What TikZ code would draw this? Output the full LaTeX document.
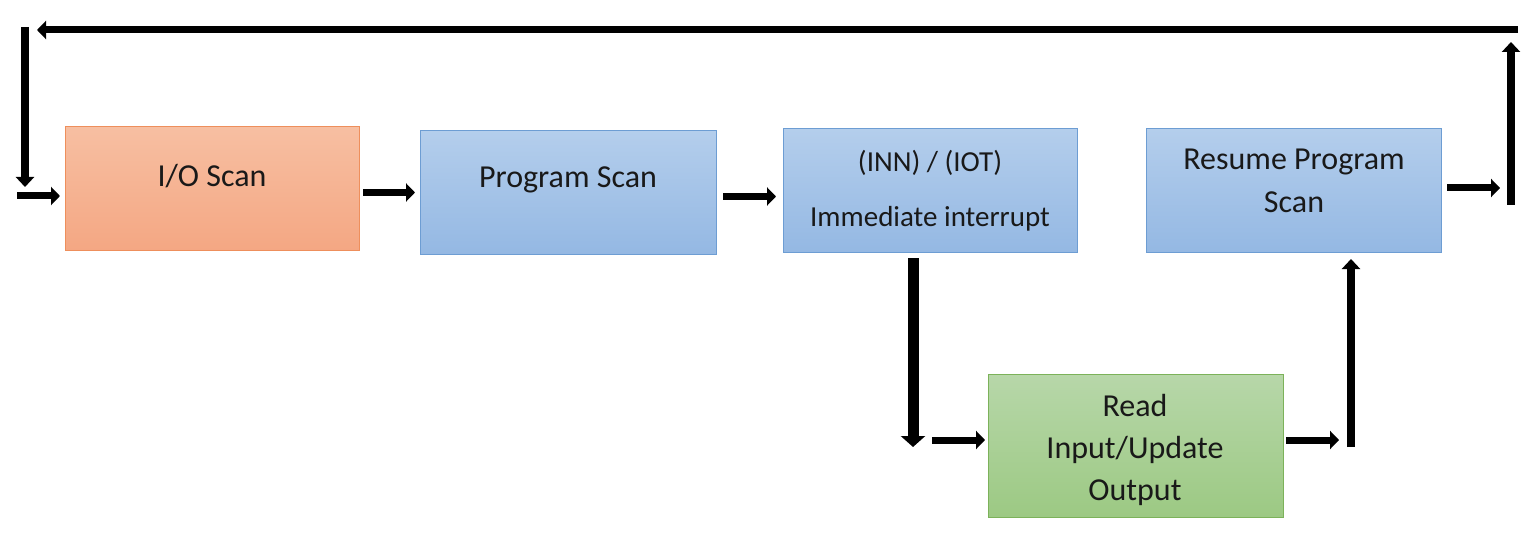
\documentclass[tikz,border=0pt]{standalone}
\usepackage{fontspec}
\setmainfont{Carlito}
\usetikzlibrary{arrows.meta,calc}
\definecolor{orTop}{HTML}{F7BFA2}
\definecolor{orBot}{HTML}{F4A783}
\definecolor{orLine}{HTML}{EE8F5C}
\definecolor{blTop}{HTML}{B4CEEC}
\definecolor{blBot}{HTML}{94B8E3}
\definecolor{blLine}{HTML}{6D9DD3}
\definecolor{grTop}{HTML}{B7D7A9}
\definecolor{grBot}{HTML}{9CC983}
\definecolor{grLine}{HTML}{7CB25A}
\tikzset{
  boxbase/.style={rectangle, anchor=north west, inner sep=0pt, line width=1pt},
  iobox/.style={boxbase, draw=orLine, top color=orTop, bottom color=orBot},
  bluebox/.style={boxbase, draw=blLine, top color=blTop, bottom color=blBot},
  greenbox/.style={boxbase, draw=grLine, top color=grTop, bottom color=grBot},
  lbl/.style={anchor=base, inner sep=0pt, text=black!90, font=\fontsize{32}{38}\selectfont},
  lbls/.style={anchor=base, inner sep=0pt, text=black!90, font=\fontsize{29}{34}\selectfont},
  arr/.style={line width=7pt, -{Triangle[length=9pt,width=18pt]}},
  arrv/.style={line width=8pt, -{Triangle[length=10pt,width=18pt]}},
  arrbig/.style={line width=11pt, -{Triangle[length=11pt,width=24pt]}},
}
\begin{document}
\begin{tikzpicture}[x=1pt,y=-1pt]
\useasboundingbox (0,0) rectangle (1536,540);
% boxes
\node[iobox, minimum width=294pt, minimum height=124pt] (io) at (65,126) {};
\node[bluebox, minimum width=296pt, minimum height=124pt] (ps) at (420,130) {};
\node[bluebox, minimum width=294pt, minimum height=124pt] (inn) at (783,128) {};
\node[bluebox, minimum width=295pt, minimum height=124pt] (res) at (1146,128) {};
\node[greenbox, minimum width=295pt, minimum height=143pt] (rd) at (988,374) {};
% texts
\node[lbl] (t1) at (212,186) {I/O Scan};
\node[lbl] (t2) at (568,188) {Program Scan};
\node[lbls] (t3) at (930,172) {(INN) / (IOT)};
\node[lbls] (t4) at (930,226) {Immediate interrupt};
\node[lbl] (t5) at (1294,170) {Resume Program};
\node[lbl] (t6) at (1294,212) {Scan};
\node[lbl] (t7) at (1135,416) {Read};
\node[lbl] (t8) at (1135,458) {Input/Update};
\node[lbl] (t9) at (1135,500) {Output};
% free ends of the loop
\coordinate (topR) at (1518,30);
\coordinate (topL) at (37,30);
\coordinate (leftT) at (25,27);
\coordinate (leftB) at (25,187);
\coordinate (inS) at (17,196);
\coordinate (rgtB) at (1511,205);
\coordinate (rgtT) at (1511,42);
\coordinate (outE) at (1500,188);
\coordinate (dnB) at (913,447);
\coordinate (upB) at (1351,447);
\coordinate (grS) at (932,440);
\coordinate (grE) at (1339,440);
% connectors
\draw[arr] (topR) -- (topL);
\draw[arrv] (leftT) -- (leftB);
\draw[arr] (inS) -- ($(io.west |- inS)+(-5,0)$);
\draw[arr] ($(io.east)+(3,4)$) -- ($(io.east -| ps.west)+(-5,4)$);
\draw[arr] ($(ps.east)+(6,4)$) -- ($(ps.east -| inn.west)+(-7,4)$);
\draw[arrbig] ($(inn.south -| dnB)+(0,5)$) -- (dnB);
\draw[arr] (grS) -- ($(rd.west |- grS)+(-3,0)$);
\draw[arr] ($(rd.east |- grE)+(2,0)$) -- (grE);
\draw[arrv] (upB) -- ($(res.south -| upB)+(0,6)$);
\draw[arr] ($(res.east |- outE)+(5,0)$) -- (outE);
\draw[arrv] (rgtB) -- (rgtT);
\end{tikzpicture}
\end{document}
